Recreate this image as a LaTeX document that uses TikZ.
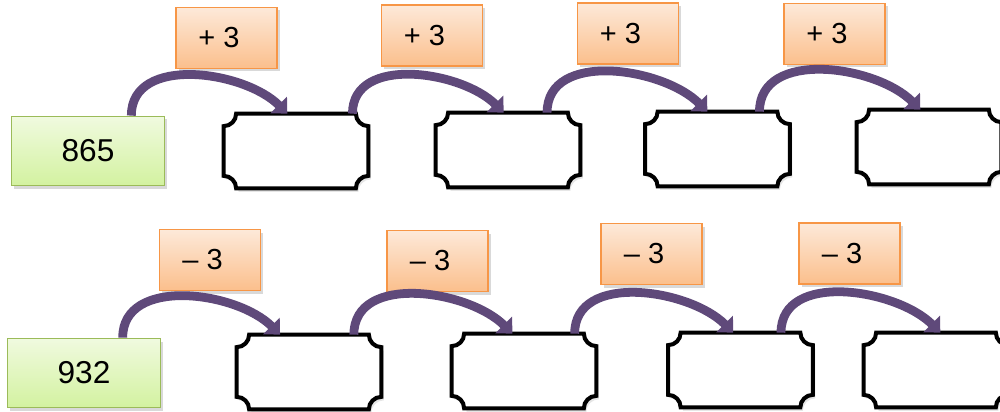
\documentclass[tikz,border=0pt]{standalone}
\usepackage{fontspec}
\setmainfont{Liberation Sans}
\usetikzlibrary{
    arrows.meta,
    calc,
    shadows
}
\definecolor{startline}{HTML}{9BBB59}
\definecolor{starttop}{HTML}{F0FADF}
\definecolor{startbottom}{HTML}{D3F2A0}
\definecolor{opline}{HTML}{F79646}
\definecolor{optop}{HTML}{FDE9D9}
\definecolor{opbottom}{HTML}{FBBF8C}
\definecolor{jumpcolor}{HTML}{5F497A}

\begin{document}
\begin{tikzpicture}[
        start/.style={draw=startline, line width=1pt, top color=starttop, bottom color=startbottom,
            minimum width=3.06cm, minimum height=1.38cm, font=\fontsize{18}{20}\selectfont,
            drop shadow={opacity=0.3, shadow xshift=0.05cm, shadow yshift=-0.06cm}},
        op/.style={draw=opline, line width=1pt, top color=optop, bottom color=opbottom,
            minimum width=2.02cm, minimum height=1.22cm, font=\fontsize{16.5}{19}\selectfont,
            execute at end node={\hspace{0.3cm}},
            drop shadow={opacity=0.3, shadow xshift=0.05cm, shadow yshift=-0.06cm}},
        ticket/.style={minimum width=2.88cm, minimum height=1.48cm, inner sep=0pt},
        ticketline/.style={draw=black, line width=2.3pt, fill=white,
            drop shadow={opacity=0.2, shadow xshift=0.05cm, shadow yshift=-0.07cm}},
        jump/.style={draw=jumpcolor, line width=5pt, -{Triangle[width=13pt,length=7pt]}, out=90, in=135}
    ]
    \useasboundingbox (0, 0) rectangle (20, 8.22);

    % adding row
    \node[start] (g1) at (1.76, 5.20) {865};
    \node[ticket] (t1) at (5.92, 5.20) {};
    \node[ticket] (t2) at (10.16, 5.22) {};
    \node[ticket] (t3) at (14.35, 5.24) {};
    \node[ticket] (t4) at (18.58, 5.28) {};

    \node[op] (p1) at (4.53, 7.46) {+ 3};
    \node[op] (p2) at (8.64, 7.51) {+ 3};
    \node[op] (p3) at (12.56, 7.55) {+ 3};
    \node[op] (p4) at (16.69, 7.54) {+ 3};

    % subtracting row
    \node[start] (g2) at (1.68, 0.76) {932};
    \node[ticket] (b1) at (6.18, 0.78) {};
    \node[ticket] (b2) at (10.48, 0.80) {};
    \node[ticket] (b3) at (14.81, 0.82) {};
    \node[ticket] (b4) at (18.72, 0.82) {};

    \node[op] (m1) at (4.20, 3.02) {– 3};
    \node[op] (m2) at (8.75, 3.00) {– 3};
    \node[op] (m3) at (13.03, 3.14) {– 3};
    \node[op] (m4) at (16.99, 3.15) {– 3};

    % empty boxes with cut corners
    \foreach \n in {t1, t2, t3, t4, b1, b2, b3, b4}
        \draw[ticketline] ([xshift=0.25cm]\n.north west) -- ([xshift=-0.25cm]\n.north east)
            arc[start angle=180, end angle=270, radius=0.25cm] -- ([yshift=0.25cm]\n.south east)
            arc[start angle=90, end angle=180, radius=0.25cm] -- ([xshift=0.25cm]\n.south west)
            arc[start angle=0, end angle=90, radius=0.25cm] -- ([yshift=-0.25cm]\n.north west)
            arc[start angle=270, end angle=360, radius=0.25cm] -- cycle;

    \draw[jump] ($(g1.north west)!0.78!(g1.north east)$) to ($(t1.north west)!0.44!(t1.north east)$);
    \draw[jump] ($(t1.north west)!0.89!(t1.north east)$) to ($(t2.north west)!0.47!(t2.north east)$);
    \draw[jump] ($(t2.north west)!0.77!(t2.north east)$) to ($(t3.north west)!0.43!(t3.north east)$);
    \draw[jump] ($(t3.north west)!0.79!(t3.north east)$) to ($(t4.north west)!0.44!(t4.north east)$);

    \draw[jump] ($(g2.north west)!0.75!(g2.north east)$) to ($(b1.north west)!0.30!(b1.north east)$);
    \draw[jump] ($(b1.north west)!0.81!(b1.north east)$) to ($(b2.north west)!0.42!(b2.north east)$);
    \draw[jump] ($(b2.north west)!0.85!(b2.north east)$) to ($(b3.north west)!0.45!(b3.north east)$);
    \draw[jump] ($(b3.north west)!0.78!(b3.north east)$) to ($(b4.north west)!0.53!(b4.north east)$);
\end{tikzpicture}
\end{document}
